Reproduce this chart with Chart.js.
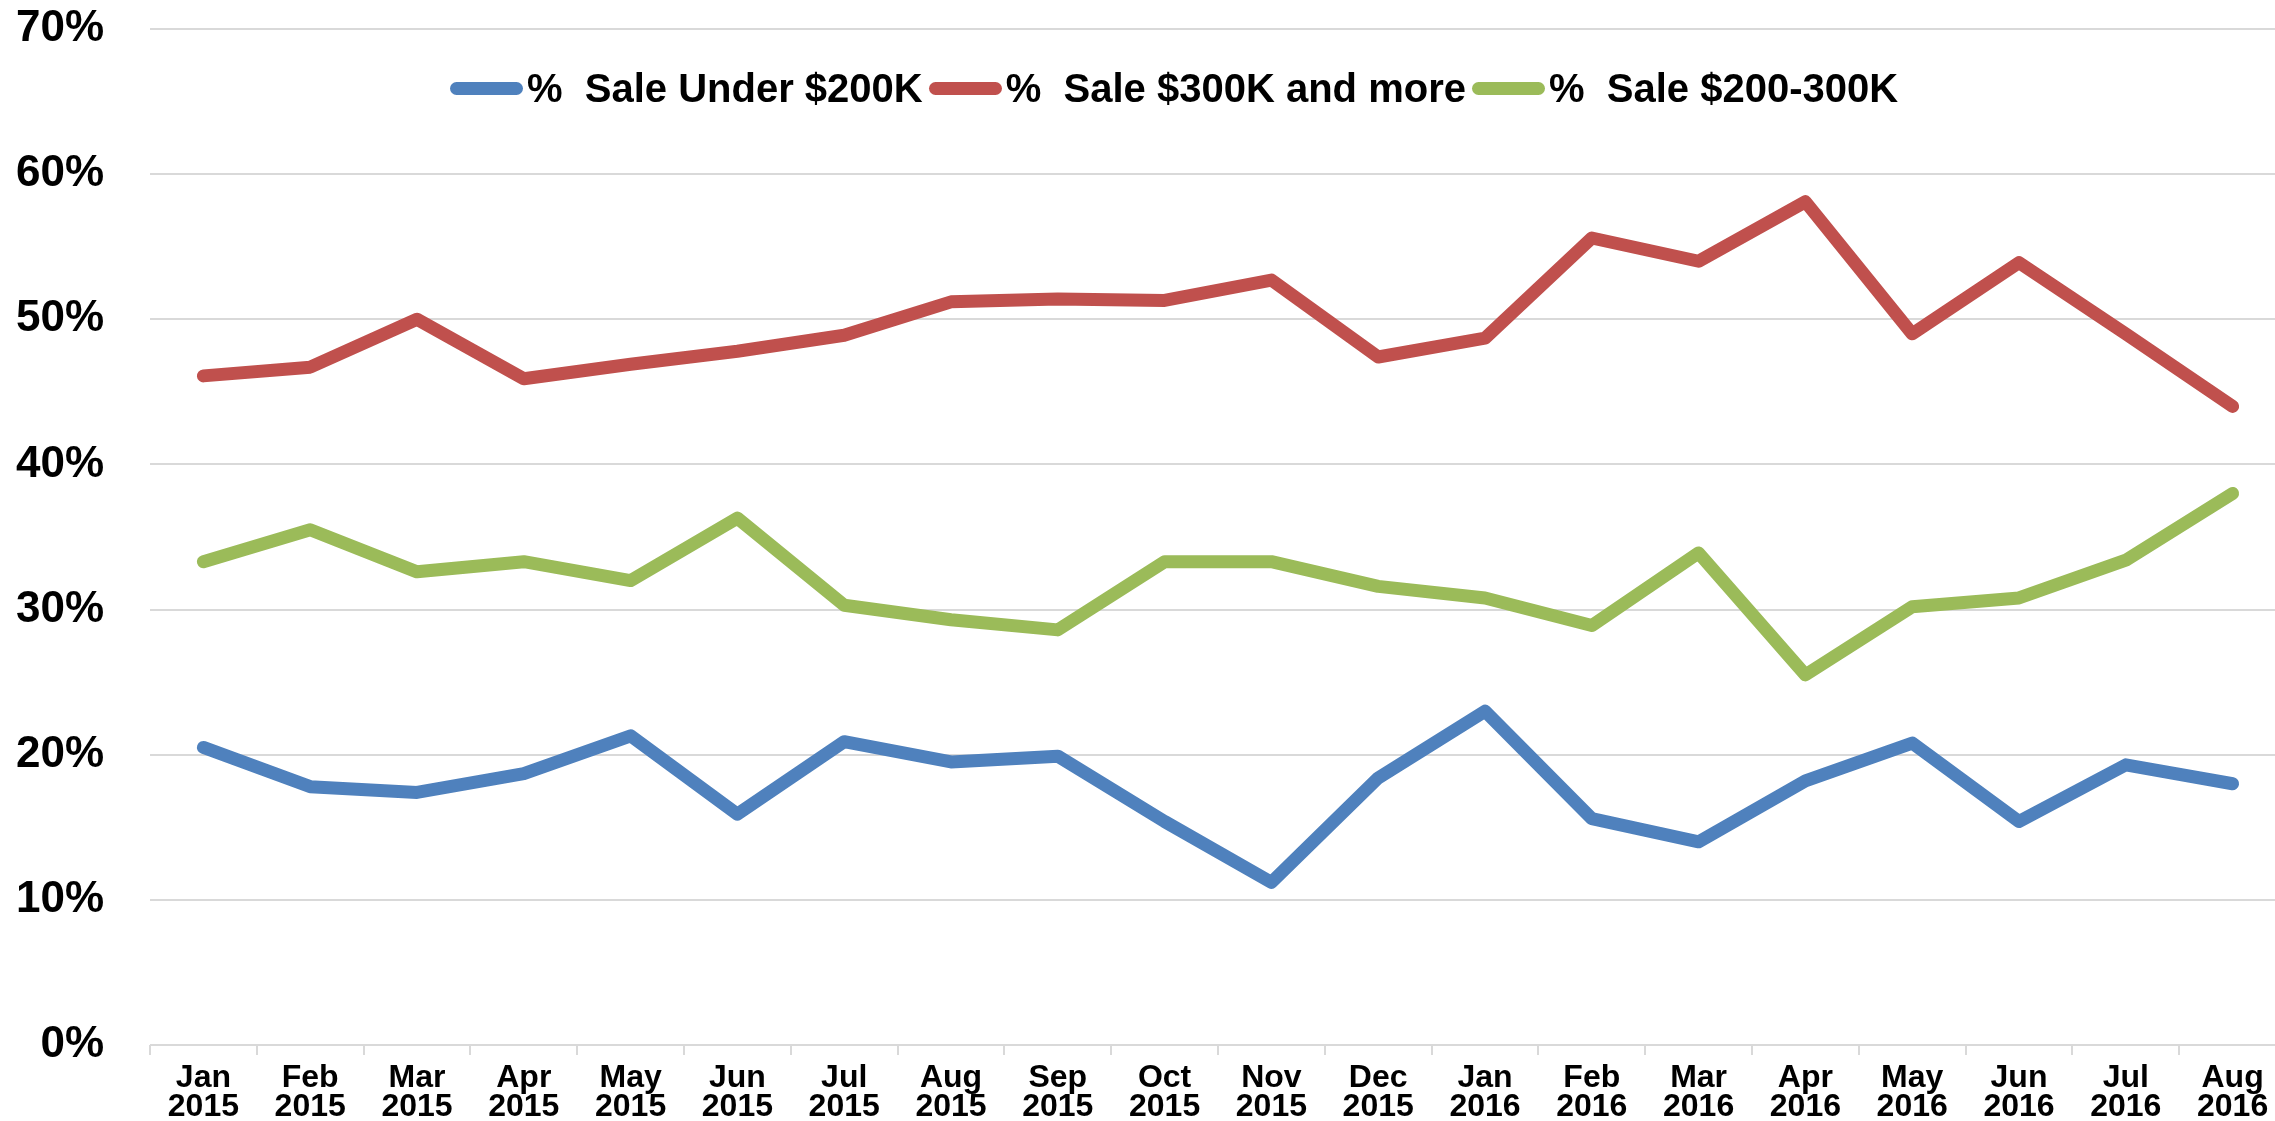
<!DOCTYPE html>
<html>
<head>
<meta charset="utf-8">
<title>% Sales by price range</title>
<script src="https://cdn.jsdelivr.net/npm/chart.js@4/dist/chart.umd.min.js"></script>
<style>
    html, body {
        margin: 0;
        padding: 0;
        background: #ffffff;
        overflow: hidden;
    }
    .chart-container {
        position: relative;
        width: 2275px;
        height: 1121px;
        overflow: hidden;
    }
    #legend {
        position: absolute;
        left: 450px;
        top: 66px;
        display: flex;
        align-items: center;
        font-family: "Liberation Sans", Arial, sans-serif;
        font-weight: bold;
        font-size: 40px;
        color: #000000;
        white-space: pre;
    }
    .legend-item {
        display: flex;
        align-items: center;
        margin-right: 6px;
    }
    .legend-line {
        width: 73px;
        height: 13px;
        border-radius: 7px;
        margin-right: 4px;
    }
</style>
</head>
<body>
<div class="chart-container">
    <!-- plot runs a little past the right edge, as in the original -->
    <canvas id="myChart" width="2286" height="1121"></canvas>
    <div id="legend"></div>
</div>
<script>
//month labels, two lines each
const months = [
    ["Jan", "2015"], ["Feb", "2015"], ["Mar", "2015"], ["Apr", "2015"], ["May", "2015"],
    ["Jun", "2015"], ["Jul", "2015"], ["Aug", "2015"], ["Sep", "2015"], ["Oct", "2015"],
    ["Nov", "2015"], ["Dec", "2015"], ["Jan", "2016"], ["Feb", "2016"], ["Mar", "2016"],
    ["Apr", "2016"], ["May", "2016"], ["Jun", "2016"], ["Jul", "2016"], ["Aug", "2016"]
];

const seriesNames = ["%  Sale Under $200K", "%  Sale $300K and more", "%  Sale $200-300K"];
const seriesColors = ["#4F81BD", "#C0504D", "#9BBB59"];

//values, in percent
const underTwoHundred = [20.5, 17.8, 17.4, 18.7, 21.3, 15.9, 20.9, 19.5, 19.9, 15.4,
    11.2, 18.4, 23.0, 15.6, 14.0, 18.2, 20.8, 15.4, 19.3, 18.0];
const threeHundredPlus = [46.1, 46.7, 50.0, 45.9, 46.9, 47.8, 48.9, 51.2, 51.4, 51.3,
    52.7, 47.4, 48.7, 55.6, 54.0, 58.1, 49.0, 53.9, 49.0, 44.0];
const twoToThreeHundred = [33.3, 35.5, 32.6, 33.3, 32.0, 36.3, 30.3, 29.3, 28.6, 33.3,
    33.3, 31.6, 30.8, 28.9, 33.9, 25.5, 30.2, 30.8, 33.4, 38.0];

const yTicks = [0, 10, 20, 30, 40, 50, 60, 70];

const fontFamily = '"Liberation Sans", Arial, sans-serif';

const allSeries = [underTwoHundred, threeHundredPlus, twoToThreeHundred];

const datasets = allSeries.map((values, i) => {
    return {
        label: seriesNames[i],
        data: values,
        borderColor: seriesColors[i],
        backgroundColor: seriesColors[i],
        borderWidth: 13,
        borderCapStyle: "round",
        borderJoinStyle: "round",
        pointRadius: 0,
        tension: 0,
        fill: false
    };
});

const ctx = document.getElementById("myChart");

const myChart = new Chart(ctx, {
    type: "line",
    data: {
        labels: months,
        datasets: datasets
    },
    options: {
        responsive: false,
        animation: false,
        events: [],
        layout: {
            padding: { top: 29, right: 0, bottom: -10, left: 0 }
        },
        plugins: {
            legend: { display: false },
            tooltip: { enabled: false }
        },
        scales: {
            x: {
                offset: true,
                afterFit: scale => {
                    scale.paddingLeft = 0;
                    scale.paddingRight = 0;
                },
                grid: {
                    offset: true,
                    drawOnChartArea: false,
                    color: "#D9D9D9",
                    lineWidth: 2,
                    tickLength: 10
                },
                border: { display: false },
                ticks: {
                    color: "#000000",
                    padding: 9,
                    maxRotation: 0,
                    autoSkip: false,
                    font: { family: fontFamily, size: 32, weight: "bold", lineHeight: "29px" }
                }
            },
            y: {
                min: 0,
                max: 70,
                afterBuildTicks: scale => {
                    scale.ticks = yTicks.map(v => ({ value: v }));
                },
                afterFit: scale => {
                    scale.width = 150;
                    scale.paddingTop = 0;
                    scale.paddingBottom = 0;
                },
                grid: {
                    color: "#D9D9D9",
                    lineWidth: 2,
                    drawTicks: false
                },
                border: { display: false },
                ticks: {
                    color: "#000000",
                    padding: 46,
                    font: { family: fontFamily, size: 44, weight: "bold" },
                    callback: value => value + "%"
                }
            }
        }
    }
});

//html legend built from the datasets
const legendBox = document.getElementById("legend");
myChart.data.datasets.forEach(ds => {
    const item = document.createElement("div");
    item.className = "legend-item";
    item.innerHTML = `<span class="legend-line" style="background:${ds.borderColor}"></span><span>${ds.label}</span>`;
    legendBox.appendChild(item);
});
</script>
</body>
</html>
